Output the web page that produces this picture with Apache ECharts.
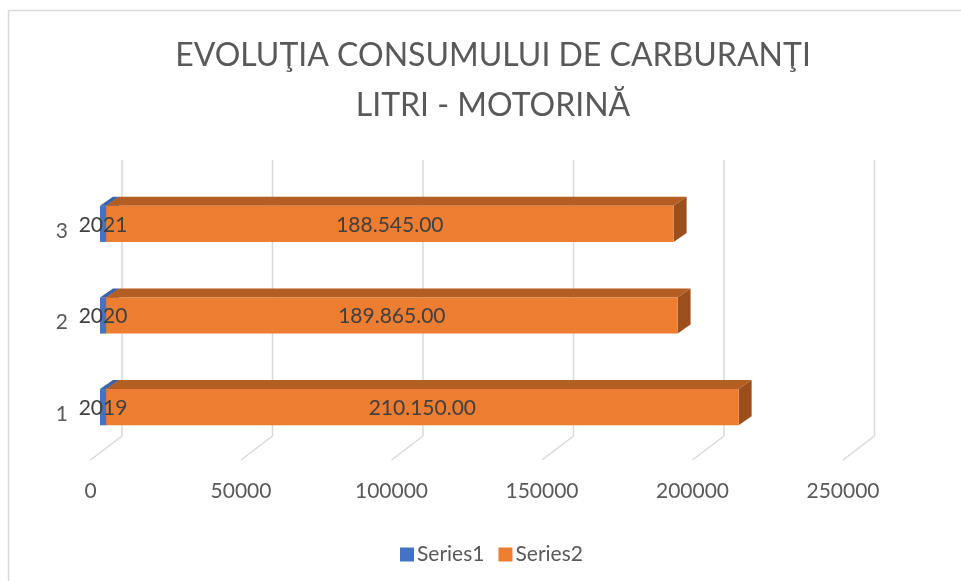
<!DOCTYPE html>
<html><head><meta charset="utf-8">
<script src="https://cdn.jsdelivr.net/npm/echarts@6/dist/echarts.min.js"></script>
<style>html,body{margin:0;padding:0;background:#fff}#c{width:961px;height:581px}</style>
</head><body><div id="c"></div>
<script>
var categories = ['1', '2', '3'];
var series1Values = [2019, 2020, 2021];
var series2Values = [210150, 189865, 188545];
var xTicks = [0, 50000, 100000, 150000, 200000, 250000];
var titleLines = ['EVOLUŢIA CONSUMULUI DE CARBURANŢI', 'LITRI - MOTORINĂ'];

function fmt(v) {
  var s = String(Math.round(v));
  var out = '';
  while (s.length > 3) { out = '.' + s.slice(-3) + out; s = s.slice(0, -3); }
  return s + out + '.00';
}

var DX = 13, DY = -9;
var FONT = 'Lato';
function makeRender(front, top, side) {
  return function (params, api) {
    var cat = api.value(0), start = api.value(1), end = api.value(2);
    var p0 = api.coord([start, cat]), p1 = api.coord([end, cat]);
    var band = api.size([0, 1])[1];
    var h = band * 0.395;
    var x0 = p0[0], x1 = p1[0], y0 = p0[1] - h / 2, y1 = p0[1] + h / 2;
    return { type: 'group', children: [
      { type: 'polygon', shape: { points: [[x0, y0], [x0 + DX, y0 + DY], [x1 + DX, y0 + DY], [x1, y0]] }, style: { fill: top } },
      { type: 'polygon', shape: { points: [[x1, y0], [x1 + DX, y0 + DY], [x1 + DX, y1 + DY], [x1, y1]] }, style: { fill: side } },
      { type: 'rect', shape: { x: x0, y: y0, width: x1 - x0, height: h }, style: { fill: front } }
    ] };
  };
}

var s1Data = categories.map(function (c, i) { return [i, 0, series1Values[i], series1Values[i]]; });
var s2Data = categories.map(function (c, i) { return [i, series1Values[i], series1Values[i] + series2Values[i], series2Values[i]]; });
var labelData = s1Data.map(function (d) { return d.concat([1]); }).concat(s2Data.map(function (d) { return d.concat([2]); }));

var chart = echarts.init(document.getElementById('c'), null, { renderer: 'canvas' });
chart.setOption({
  backgroundColor: '#fff',
  animation: false,
  graphic: [{ type: 'rect', shape: { x: 8.5, y: 10.5, width: 1200, height: 1200 }, style: { fill: 'none', stroke: '#d9d9d9', lineWidth: 1.5 }, z: -10 }],
  title: {
    text: titleLines.join('\n'), left: 488, top: 26, textAlign: 'center',
    textStyle: { fontFamily: FONT, fontWeight: 400, fontSize: 32, color: '#595959', lineHeight: 50 }
  },
  legend: {
    data: ['Series1', 'Series2'], left: 395, top: 539, itemWidth: 14, itemHeight: 14, itemGap: 14, icon: 'rect',
    textStyle: { fontFamily: FONT, fontSize: 21, color: '#595959', padding: [0, 0, 0, -2] }
  },
  grid: [
    { left: 100, top: 178, width: 752.5, height: 275 },
    { left: 90.5, top: 178, width: 752.5, height: 275 }
  ],
  xAxis: [
    { gridIndex: 0, type: 'value', min: 0, max: 250000, interval: 50000, axisLine: { show: false }, axisTick: { show: false }, splitLine: { show: false }, axisLabel: { show: false } },
    { gridIndex: 1, type: 'value', min: 0, max: 250000, interval: 50000, axisLine: { show: false }, axisTick: { show: false }, splitLine: { show: false },
      axisLabel: { margin: 28, fontFamily: FONT, fontSize: 21, color: '#595959', formatter: function (v) { return xTicks.indexOf(v) >= 0 ? String(v) : ''; } } }
  ],
  yAxis: [
    { gridIndex: 0, type: 'category', data: categories, axisLine: { show: false }, axisTick: { show: false }, splitLine: { show: false },
      axisLabel: { margin: 32, fontFamily: FONT, fontSize: 21, color: '#595959', verticalAlign: 'top', lineHeight: 14 } },
    { gridIndex: 1, type: 'category', data: categories, show: false }
  ],
  series: [
    { name: 'wall', type: 'custom', xAxisIndex: 1, yAxisIndex: 1, silent: true, z: 1,
      data: xTicks.map(function (v) { return [v, 0]; }), encode: { x: 0, y: 1 },
      renderItem: function (params, api) {
        var x = api.coord([api.value(0), 0])[0];
        return { type: 'polyline', shape: { points: [[x + 31.5, 160], [x + 31.5, 436], [x, 460]] }, style: { stroke: '#d9d9d9', lineWidth: 1.5, fill: null } };
      } },
    { name: 'Series1', type: 'custom', xAxisIndex: 0, yAxisIndex: 0, z: 2, itemStyle: { color: '#4472C4' },
      data: s1Data, encode: { x: [1, 2], y: 0 },
      renderItem: makeRender('#4472C4', '#3A62A8', '#2F5597') },
    { name: 'Series2', type: 'custom', xAxisIndex: 0, yAxisIndex: 0, z: 3, itemStyle: { color: '#ED7D31' },
      data: s2Data, encode: { x: [1, 2], y: 0 },
      renderItem: makeRender('#ED7D31', '#B45E23', '#9B4F1C') },
    { name: 'labels', type: 'custom', xAxisIndex: 0, yAxisIndex: 0, z: 4, silent: true,
      data: labelData, encode: { x: [1, 2], y: 0 },
      renderItem: function (params, api) {
        var cat = api.value(0), start = api.value(1), end = api.value(2), raw = api.value(3), which = api.value(4);
        var p0 = api.coord([start, cat]), p1 = api.coord([end, cat]);
        return { type: 'text', style: { text: which === 2 ? fmt(raw) : String(raw), x: (p0[0] + p1[0]) / 2, y: p0[1] + 1, align: 'center', verticalAlign: 'middle', fill: '#404040', font: '21px ' + FONT } };
      } }
  ]
});
</script></body></html>
